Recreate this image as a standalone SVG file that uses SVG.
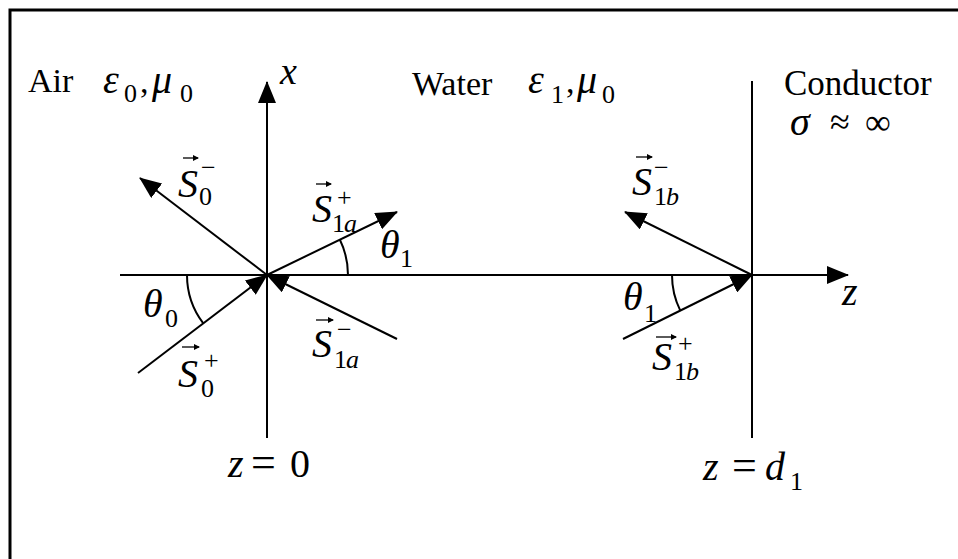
<svg xmlns="http://www.w3.org/2000/svg" width="958" height="559" viewBox="0 0 958 559">
<style>
.ln{stroke:#000;stroke-width:2;fill:none}
.bd{stroke:#000;stroke-width:3;fill:none}
text{font-family:"Liberation Serif","Times New Roman","DejaVu Serif",serif;fill:#000}
.rm{font-size:34px}
.mi{font-size:40px;font-style:italic}
.sb{font-size:26px}
.si{font-size:26px;font-style:italic}
.ov{stroke:#000;stroke-width:1.3;fill:none}
</style>
<defs>
<marker id="ah" markerWidth="22" markerHeight="18" refX="21" refY="9" orient="auto" markerUnits="userSpaceOnUse"><path d="M0,0 L22,9 L0,18 z" fill="#000"/></marker>
<marker id="sa" markerWidth="6" markerHeight="6" refX="5" refY="3" orient="auto" markerUnits="userSpaceOnUse"><path d="M0,0 L6,3 L0,6 z" fill="#000"/></marker>
</defs>
<rect width="958" height="559" fill="#fff"/>
<path class="bd" d="M10,559 V10 H958"/>

<g id="connectors">
<line id="x-axis" class="ln" x1="267" y1="438" x2="267" y2="82" marker-end="url(#ah)"/>
<line id="z-axis" class="ln" x1="120" y1="275" x2="848" y2="275" marker-end="url(#ah)"/>
<line id="conductor-boundary" class="ln" x1="752" y1="81" x2="752" y2="438"/>
<line id="S0minus" class="ln" x1="267" y1="275" x2="140" y2="178" marker-end="url(#ah)"/>
<line id="S1aplus" class="ln" x1="267" y1="275" x2="397" y2="212" marker-end="url(#ah)"/>
<line id="S0plus" class="ln" x1="138" y1="373" x2="267" y2="275" marker-end="url(#ah)"/>
<line id="S1aminus" class="ln" x1="397" y1="339" x2="267" y2="275" marker-end="url(#ah)"/>
<line id="S1bplus" class="ln" x1="623" y1="339" x2="752" y2="275" marker-end="url(#ah)"/>
<line id="S1bminus" class="ln" x1="752" y1="275" x2="625" y2="212" marker-end="url(#ah)"/>
<path id="arc-theta1-a" class="ln" d="M348,275 A81,81 0 0 0 339.8,239.5"/>
<path id="arc-theta0" class="ln" d="M187,275 A80,80 0 0 0 203.3,323.4"/>
<path id="arc-theta1-b" class="ln" d="M672,275 A80,80 0 0 0 680.3,310.6"/>
</g>

<g font-family="Liberation Serif, Times New Roman, DejaVu Serif, serif">
<g id="air-label">
<text class="rm" x="28" y="92">Air</text>
<text class="mi" x="103" y="93">ε</text><text class="sb" x="124" y="102">0</text>
<text class="rm" x="140" y="93">,</text>
<text class="mi" x="152" y="93">μ</text><text class="sb" x="180" y="102">0</text>
</g>
<g id="x-label"><text class="mi" x="280" y="84" style="font-size:38px">x</text></g>
<g id="water-label">
<text class="rm" x="412" y="95">Water</text>
<text class="mi" x="528" y="93">ε</text><text class="sb" x="551" y="103">1</text>
<text class="rm" x="566" y="93">,</text>
<text class="mi" x="577" y="93">μ</text><text class="sb" x="602" y="103">0</text>
</g>
<g id="conductor-label">
<text class="rm" x="784" y="95" style="font-size:35px">Conductor</text>
<text class="mi" x="790" y="135">σ</text>
<text class="rm" x="830" y="134" style="font-size:36px">≈</text>
<text class="rm" x="865" y="134" style="font-size:36px">∞</text>
</g>

<g id="S0minus-label">
<line class="ov" x1="183" y1="158" x2="198" y2="158" marker-end="url(#sa)"/>
<text class="mi" x="178" y="197">S</text><text class="sb" x="199" y="205">0</text><text class="sb" x="201" y="176">−</text>
</g>
<g id="S1aplus-label">
<line class="ov" x1="316" y1="184" x2="331" y2="184" marker-end="url(#sa)"/>
<text class="mi" x="312" y="222">S</text><text class="sb" x="332" y="232">1</text><text class="si" x="344" y="232">a</text><text class="sb" x="337" y="206">+</text>
</g>
<g id="theta1a-label"><text class="mi" x="380" y="258">θ</text><text class="sb" x="400" y="267">1</text></g>
<g id="theta0-label"><text class="mi" x="143" y="317">θ</text><text class="sb" x="165" y="327">0</text></g>
<g id="S0plus-label">
<line class="ov" x1="182" y1="347" x2="199" y2="347" marker-end="url(#sa)"/>
<text class="mi" x="178" y="387">S</text><text class="sb" x="201" y="397">0</text><text class="sb" x="204" y="369">+</text>
</g>
<g id="S1aminus-label">
<line class="ov" x1="316" y1="320" x2="333" y2="320" marker-end="url(#sa)"/>
<text class="mi" x="312" y="357">S</text><text class="sb" x="334" y="368">1</text><text class="si" x="346" y="368">a</text><text class="sb" x="337" y="338">−</text>
</g>
<g id="theta1b-label"><text class="mi" x="623" y="310">θ</text><text class="sb" x="644" y="322">1</text></g>
<g id="S1bplus-label">
<line class="ov" x1="656" y1="337" x2="676" y2="337" marker-end="url(#sa)"/>
<text class="mi" x="652" y="370">S</text><text class="sb" x="674" y="380">1</text><text class="si" x="686" y="380">b</text><text class="sb" x="678" y="352">+</text>
</g>
<g id="S1bminus-label">
<line class="ov" x1="636" y1="157" x2="652" y2="157" marker-end="url(#sa)"/>
<text class="mi" x="632" y="195">S</text><text class="sb" x="654" y="205">1</text><text class="si" x="666" y="205">b</text><text class="sb" x="654" y="176">−</text>
</g>
<g id="z-label"><text class="mi" x="842" y="305">z</text></g>
<g id="z0-label">
<text class="mi" x="228" y="477">z</text><text class="rm" x="251" y="477" style="font-size:44px">=</text><text class="rm" x="290" y="477" style="font-size:40px">0</text>
</g>
<g id="zd1-label">
<text class="mi" x="703" y="480">z</text><text class="rm" x="732" y="480" style="font-size:44px">=</text><text class="mi" x="765" y="480">d</text><text class="sb" x="790" y="490">1</text>
</g>
</g>
</svg>
